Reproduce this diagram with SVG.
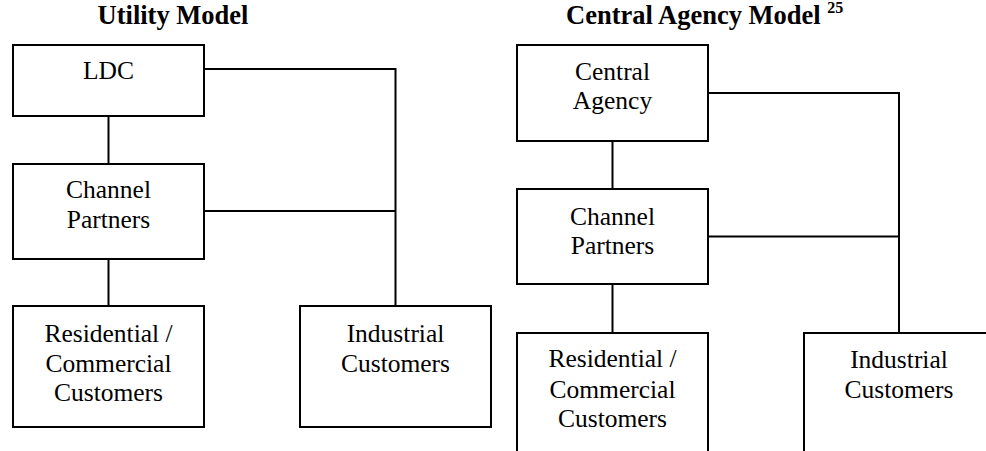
<svg xmlns="http://www.w3.org/2000/svg" width="986" height="451" viewBox="0 0 986 451">
<style>
.box{fill:#fff;stroke:#000;stroke-width:2}
.ln{fill:none;stroke:#000;stroke-width:2}
.t{font-size:25.5px;text-anchor:middle}
.h{font-size:26.5px;font-weight:bold}
.sup{font-size:16px;font-weight:bold}
</style>
<rect width="986" height="451" fill="#fff"/>
<g font-family="'Liberation Serif', 'Times New Roman', 'DejaVu Serif', serif" fill="#000">
<text class="h" x="173" y="24" text-anchor="middle">Utility Model</text>
<text class="h" x="566" y="24">Central Agency Model <tspan class="sup" dy="-11">25</tspan></text>
</g>
<g id="connectors">
<line class="ln" x1="108.5" y1="116" x2="108.5" y2="164"/>
<line class="ln" x1="108.5" y1="259" x2="108.5" y2="306"/>
<polyline class="ln" points="204,69 395.5,69 395.5,306"/>
<line class="ln" x1="204" y1="211" x2="395.5" y2="211"/>
<line class="ln" x1="612.5" y1="141" x2="612.5" y2="189"/>
<line class="ln" x1="612.5" y1="284" x2="612.5" y2="333"/>
<polyline class="ln" points="708,93 899,93 899,333"/>
<line class="ln" x1="708" y1="236.5" x2="899" y2="236.5"/>
</g>
<g font-family="'Liberation Serif', 'Times New Roman', 'DejaVu Serif', serif" fill="#000">
<g id="ldc">
<rect class="box" x="13" y="45" width="191" height="71"/>
<text class="t" x="108.5" y="79">LDC</text>
</g>
<g id="channel1">
<rect class="box" x="13" y="164" width="191" height="95"/>
<text class="t" x="108.5" y="197.5">Channel</text>
<text class="t" x="108.5" y="228">Partners</text>
</g>
<g id="residential1">
<rect class="box" x="13" y="306" width="191" height="121"/>
<text class="t" x="108.5" y="342">Residential /</text>
<text class="t" x="108.5" y="372">Commercial</text>
<text class="t" x="108.5" y="401">Customers</text>
</g>
<g id="industrial1">
<rect class="box" x="300" y="306" width="191" height="121"/>
<text class="t" x="395.5" y="342">Industrial</text>
<text class="t" x="395.5" y="372">Customers</text>
</g>
<g id="central">
<rect class="box" x="517" y="45" width="191" height="96"/>
<text class="t" x="612.5" y="80">Central</text>
<text class="t" x="612.5" y="109">Agency</text>
</g>
<g id="channel2">
<rect class="box" x="517" y="189" width="191" height="95"/>
<text class="t" x="612.5" y="225">Channel</text>
<text class="t" x="612.5" y="254">Partners</text>
</g>
<g id="residential2">
<rect class="box" x="517" y="333" width="191" height="140"/>
<text class="t" x="612.5" y="367">Residential /</text>
<text class="t" x="612.5" y="398">Commercial</text>
<text class="t" x="612.5" y="427">Customers</text>
</g>
<g id="industrial2">
<rect class="box" x="804" y="333" width="191" height="140"/>
<text class="t" x="899" y="368">Industrial</text>
<text class="t" x="899" y="398">Customers</text>
</g>
</g>
</svg>
